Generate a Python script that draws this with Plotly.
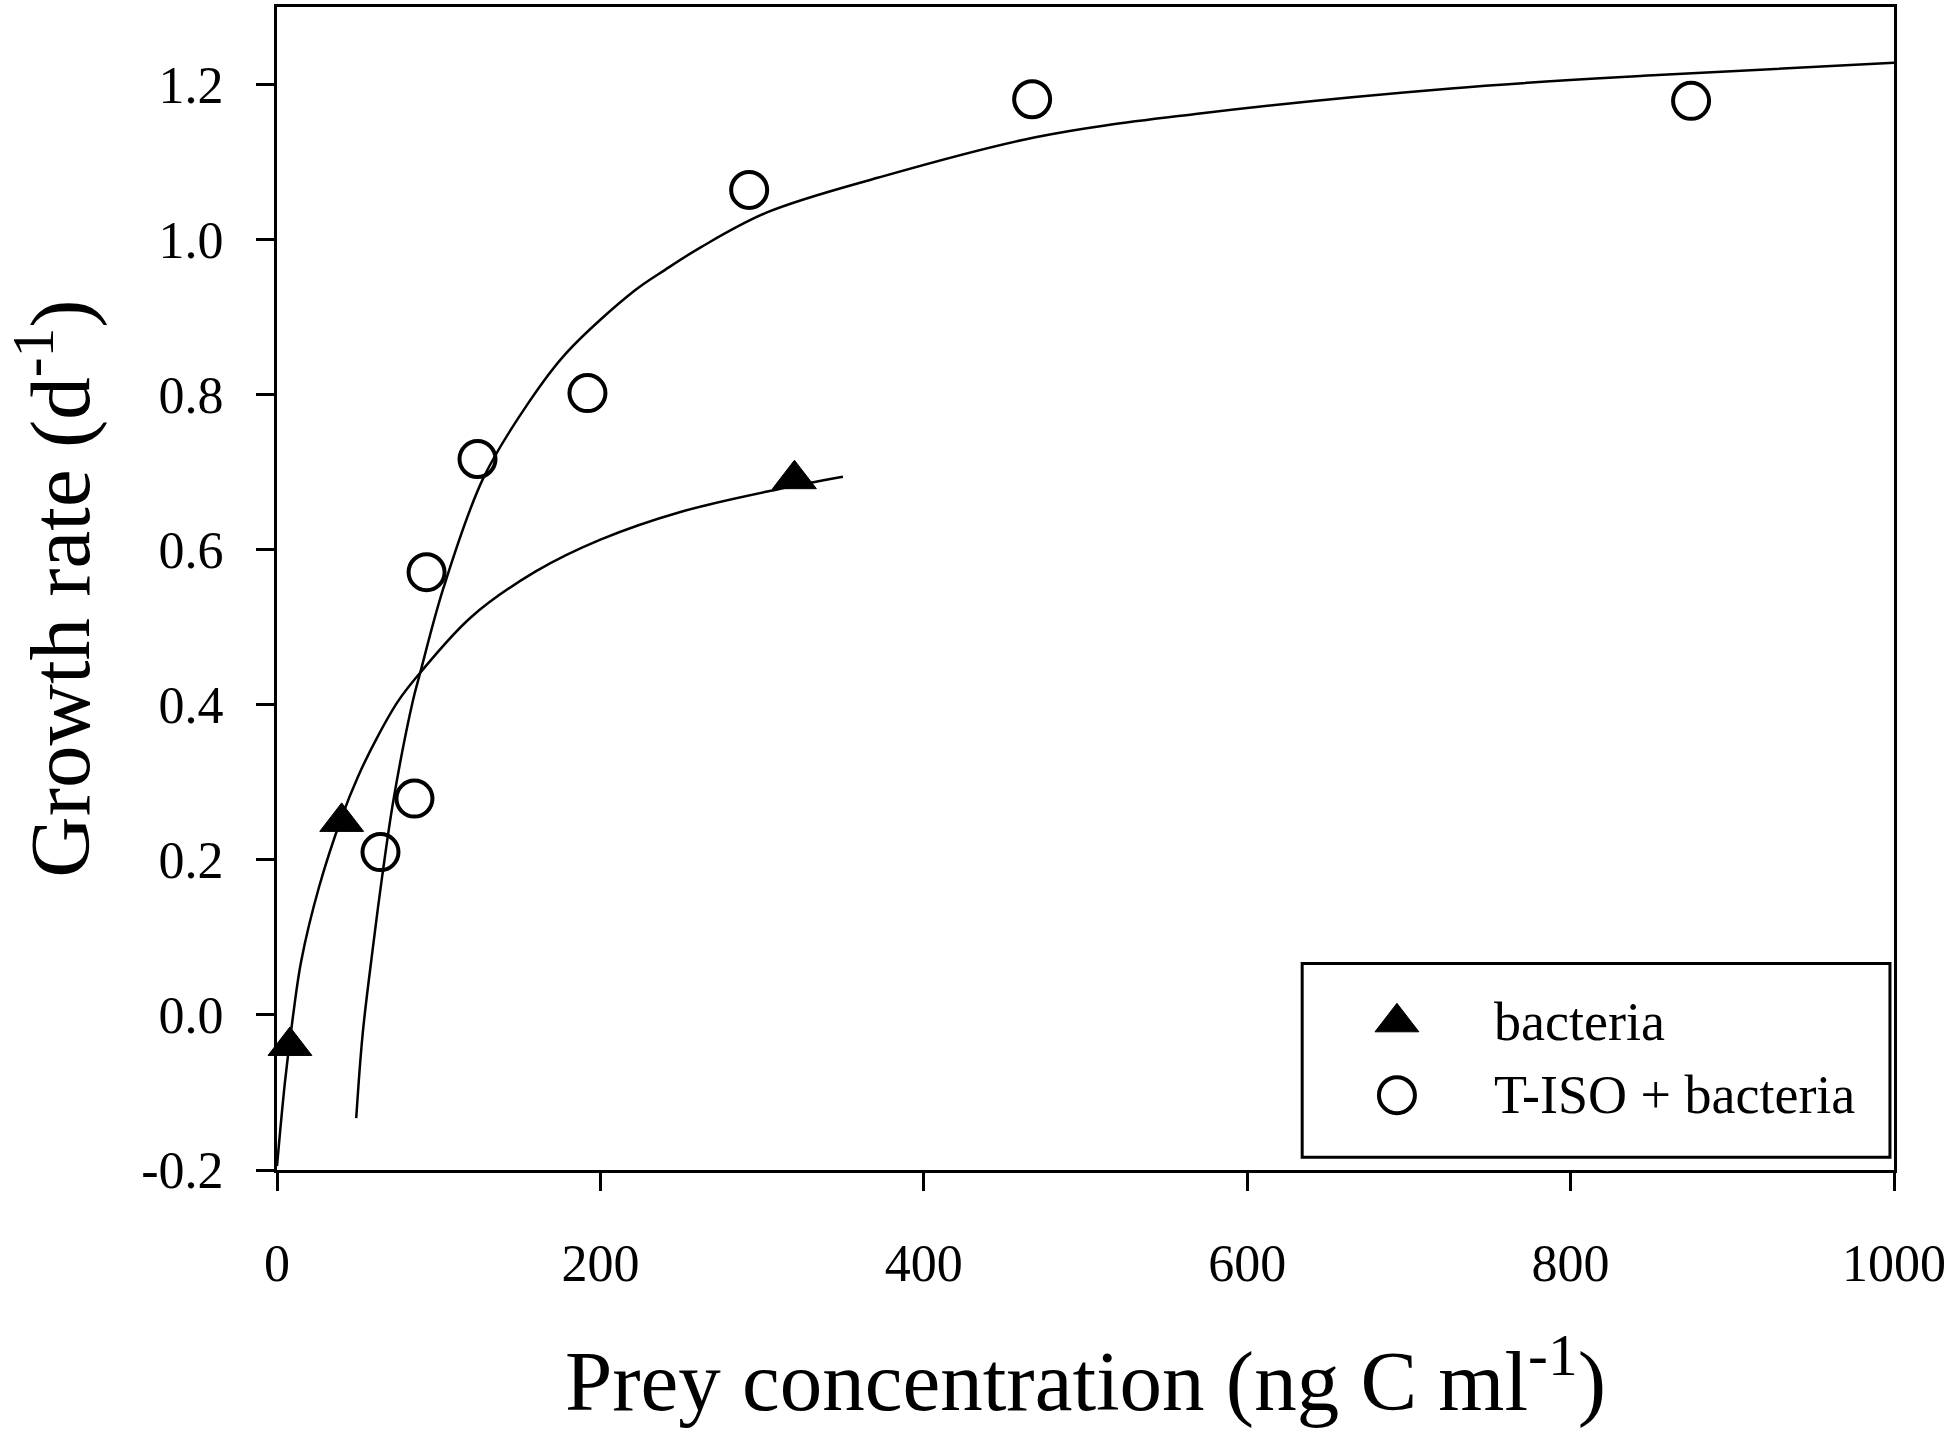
import plotly.graph_objects as go

bact_x = [8, 40, 320]
bact_y = [-0.04, 0.249, 0.691]
tiso_x = [64, 85, 92.5, 124, 192, 292, 467, 874.5]
tiso_y = [0.21, 0.279, 0.571, 0.717, 0.802, 1.064, 1.181, 1.179]

# fitted response curves
bact_fit_x = [0, 5, 10, 15, 26, 40, 50, 62, 75, 88, 120, 160, 200, 250, 310, 350]
bact_fit_y = [-0.195, -0.085, 0.0, 0.07, 0.165, 0.255, 0.307, 0.358, 0.405,
              0.44, 0.513, 0.572, 0.613, 0.649, 0.678, 0.694]
tiso_fit_x = [49, 53, 59.5, 65, 72, 84, 88.4, 103, 127.5, 156, 179, 221, 240,
              262, 303, 372, 469, 568, 726, 851, 1000]
tiso_fit_y = [-0.133, -0.024, 0.09, 0.178, 0.277, 0.405, 0.44, 0.551, 0.692,
              0.791, 0.854, 0.934, 0.961, 0.99, 1.035, 1.08, 1.132, 1.162,
              1.195, 1.212, 1.228]

x_ticks = [0, 200, 400, 600, 800, 1000]
y_ticks = [-0.2, 0.0, 0.2, 0.4, 0.6, 0.8, 1.0, 1.2]
y_ticktext = ['-0.2', '0.0', '0.2', '0.4', '0.6', '0.8', '1.0', '1.2']

series_names = ['bacteria', 'T-ISO + bacteria']

FONT = 'Liberation Serif'

fig = go.Figure()

# fit curves
curve_line = dict(color='black', width=2.5, shape='spline', smoothing=1.0)
fig.add_trace(go.Scatter(x=bact_fit_x, y=bact_fit_y, mode='lines', line=curve_line,
                         showlegend=False, hoverinfo='skip'))
fig.add_trace(go.Scatter(x=tiso_fit_x, y=tiso_fit_y, mode='lines', line=curve_line,
                         showlegend=False, hoverinfo='skip'))

# data points
tri_marker = dict(symbol='triangle-up', size=38, color='black',
                  line=dict(color='black', width=1))
circ_marker = dict(symbol='circle-open', size=36, color='black',
                   line=dict(color='black', width=4))
fig.add_trace(go.Scatter(x=bact_x, y=bact_y, mode='markers', name=series_names[0],
                         marker=tri_marker, showlegend=False, cliponaxis=False))
fig.add_trace(go.Scatter(x=tiso_x, y=tiso_y, mode='markers', name=series_names[1],
                         marker=circ_marker, showlegend=False, cliponaxis=False))

# legend box (drawn by hand so the symbols can be as large as in the plot)
leg_x0, leg_x1, leg_y0, leg_y1 = 0.634, 0.9975, 0.011, 0.1775
sym_x, txt_x = 0.6926, 0.7514
row_y = [0.127, 0.0643]

fig.add_shape(type='rect', xref='paper', yref='paper',
              x0=leg_x0, x1=leg_x1, y0=leg_y0, y1=leg_y1,
              line=dict(color='black', width=3), fillcolor='white', layer='below')
for marker, ry in zip([tri_marker, circ_marker], row_y):
    fig.add_trace(go.Scatter(x=[sym_x], y=[ry], xaxis='x2', yaxis='y2', mode='markers',
                             marker=marker, showlegend=False, hoverinfo='skip'))
for name, ry in zip(series_names, row_y):
    fig.add_annotation(text=name, xref='paper', yref='paper', x=txt_x, y=ry,
                       xanchor='left', yanchor='middle', showarrow=False,
                       font=dict(family=FONT, size=54, color='black'))

axis_common = dict(showgrid=False, zeroline=False, showline=True, linecolor='black',
                   linewidth=3, mirror=True, ticks='outside', ticklen=18, tickwidth=3,
                   tickcolor='black', tickfont=dict(family=FONT, size=52, color='black'))

fig.update_layout(
    width=1950, height=1439,
    margin=dict(l=277, r=56, t=4, b=269),
    paper_bgcolor='white', plot_bgcolor='white',
    xaxis=dict(range=[0, 1000], tickvals=x_ticks, ticklabelstandoff=28,
               title=dict(text='Prey concentration (ng C ml<sup>-1</sup>)',
                          font=dict(family=FONT, size=85, color='black'), standoff=60),
               **axis_common),
    yaxis=dict(range=[-0.2, 1.3], tickvals=y_ticks, ticktext=y_ticktext,
               ticklabelstandoff=22,
               title=dict(text='Growth rate (d<sup>-1</sup>)',
                          font=dict(family=FONT, size=85, color='black'), standoff=40),
               **axis_common),
    xaxis2=dict(overlaying='x', range=[0, 1], visible=False),
    yaxis2=dict(overlaying='y', range=[0, 1], visible=False),
    showlegend=False,
)

# drop the browser's default page margin so the figure fills the window exactly
fig.write_html('out.html', config={'displayModeBar': False},
               post_script="document.body.style.margin = '0';")
